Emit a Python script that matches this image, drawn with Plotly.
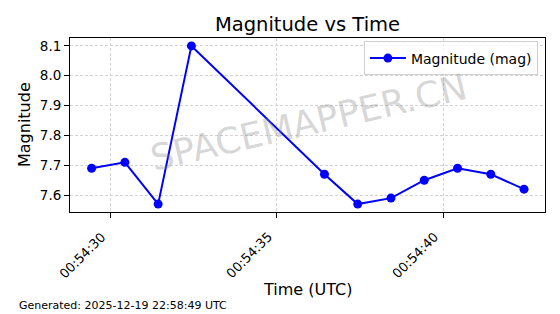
import plotly.graph_objects as go

times = ["2025-12-19 00:54:29.43", "2025-12-19 00:54:30.43", "2025-12-19 00:54:31.43",
         "2025-12-19 00:54:32.43", "2025-12-19 00:54:36.43", "2025-12-19 00:54:37.43",
         "2025-12-19 00:54:38.43", "2025-12-19 00:54:39.43", "2025-12-19 00:54:40.43",
         "2025-12-19 00:54:41.43", "2025-12-19 00:54:42.43"]
magnitudes = [7.69, 7.71, 7.57, 8.10, 7.67, 7.57, 7.59, 7.65, 7.69, 7.67, 7.62]
tick_vals = ["2025-12-19 00:54:30", "2025-12-19 00:54:35", "2025-12-19 00:54:40"]
tick_text = ["00:54:30", "00:54:35", "00:54:40"]
y_ticks = [7.6, 7.7, 7.8, 7.9, 8.0, 8.1]

W, H = 560, 314
L, R, T, B = 70, 545, 38, 212
FONT = "DejaVu Sans"

fig = go.Figure()
fig.add_trace(go.Scatter(
    x=times, y=magnitudes, mode="lines+markers", name="Magnitude (mag)",
    line=dict(color="#0000ff", width=2), marker=dict(color="#0000ff", size=9),
))

fig.update_layout(
    width=W, height=H,
    margin=dict(l=L, r=W - R, t=T, b=H - B, pad=0),
    paper_bgcolor="white", plot_bgcolor="white",
    font=dict(family=FONT, color="black", size=13),
    showlegend=True,
    legend=dict(x=0.985, y=0.98, xanchor="right", yanchor="top",
                bgcolor="rgba(255,255,255,0.8)", bordercolor="#d0d0d0", borderwidth=1,
                itemwidth=36, font=dict(size=14, family=FONT)),
    title=dict(text="Magnitude vs Time", x=(L + R) / 2 / W, xanchor="center",
               xref="container", y=1 - 24 / H, yanchor="middle", yref="container",
               font=dict(size=19.5, family=FONT)),
)

grid = dict(showgrid=True, gridcolor="#d3d3d3", griddash="3px,2px", gridwidth=1)
fig.update_xaxes(
    type="date",
    range=["2025-12-19 00:54:28.78", "2025-12-19 00:54:43.06"],
    tickvals=tick_vals, showticklabels=False,
    ticks="outside", ticklen=5, tickcolor="black",
    showline=True, linecolor="black", linewidth=1, mirror=True,
    zeroline=False, **grid,
)
fig.update_yaxes(
    range=[7.5435, 8.1265], tickvals=y_ticks, ticktext=[f"{v:.1f}" for v in y_ticks],
    ticks="outside", ticklen=5, tickcolor="black",
    showline=True, linecolor="black", linewidth=1, mirror=True,
    zeroline=False, tickfont=dict(size=13.5), **grid,
)

# rotated x tick labels
for tv, tt in zip(tick_vals, tick_text):
    fig.add_annotation(text=tt, x=tv, xref="x", yref="paper",
                       y=-(228 - B) / (B - T), xanchor="right", yanchor="top",
                       xshift=-1, textangle=-45, showarrow=False, borderpad=0,
                       font=dict(size=13, family=FONT))

# axis titles
fig.add_annotation(text="Time (UTC)", xref="paper", yref="paper",
                   x=0.5, y=-(289 - B) / (B - T), xanchor="center", yanchor="middle",
                   showarrow=False, font=dict(size=16, family=FONT))
fig.add_annotation(text="Magnitude", xref="paper", yref="paper",
                   x=-(L - 24) / (R - L), y=0.5, xanchor="center", yanchor="middle",
                   textangle=-90, showarrow=False, font=dict(size=16, family=FONT))
# watermark
fig.add_annotation(text="SPACEMAPPER.CN", xref="paper", yref="paper",
                   x=(308 - L) / (R - L), y=(B - 122) / (B - T),
                   xanchor="center", yanchor="middle", textangle=-13,
                   showarrow=False, font=dict(size=36, family=FONT, color="rgba(128,128,128,0.33)"))
# footer
fig.add_annotation(text="Generated: 2025-12-19 22:58:49 UTC", xref="paper", yref="paper",
                   x=-(L - 17) / (R - L), y=-(305 - B) / (B - T),
                   xanchor="left", yanchor="middle",
                   showarrow=False, font=dict(size=11, family=FONT))

fig.write_html("out.html")
